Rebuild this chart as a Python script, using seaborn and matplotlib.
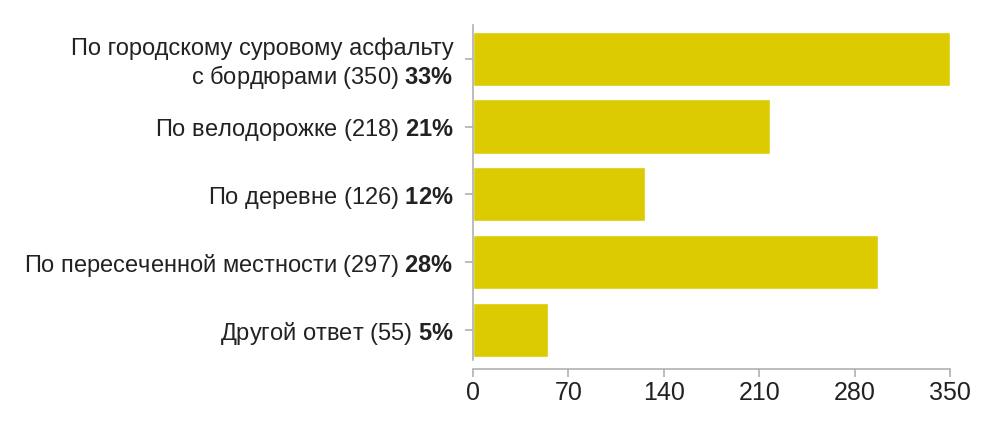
import matplotlib
matplotlib.use("Agg")
import matplotlib.pyplot as plt
import seaborn as sns
import pandas as pd

categories = [
    "По городскому суровому асфальту\nс бордюрами",
    "По велодорожке",
    "По деревне",
    "По пересеченной местности",
    "Другой ответ",
]
counts = [350, 218, 126, 297, 55]
percents = [33, 21, 12, 28, 5]
x_ticks = [0, 70, 140, 210, 280, 350]

df = pd.DataFrame({"cat": categories, "count": counts, "pct": percents})

sns.set_style("white")
plt.rcParams["font.family"] = ["Liberation Sans", "DejaVu Sans"]
plt.rcParams["mathtext.fontset"] = "custom"
plt.rcParams["mathtext.bf"] = "Liberation Sans:bold"
plt.rcParams["mathtext.rm"] = "Liberation Sans"

fig = plt.figure(figsize=(10, 4.33), dpi=100)
ax = fig.add_axes([0.473, 1 - 369 / 433, 0.477, (369 - 25) / 433])

sns.barplot(data=df, x="count", y="cat", color="#dccb00", saturation=1,
            width=0.8, ax=ax, orient="h")

labels = [f"{c} ({n}) $\\mathbf{{{p}\\%}}$" for c, n, p in zip(categories, counts, percents)]
ax.set_yticks(range(len(categories)))
ax.set_yticklabels(labels, fontsize=17, color="#222222", linespacing=1.15)
ax.set_xticks(x_ticks)
ax.set_xticklabels([str(t) for t in x_ticks], fontsize=18, color="#222222")
ax.set_xlim(0, 350)
ax.set_ylim(4.58, -0.5)
ax.set_xlabel("")
ax.set_ylabel("")

for s in ["top", "right"]:
    ax.spines[s].set_visible(False)
for s in ["left", "bottom"]:
    ax.spines[s].set_color("#b0b0b0")
    ax.spines[s].set_linewidth(1.2)
ax.spines["left"].set_bounds(4.45, -0.5)
ax.tick_params(axis="both", bottom=True, left=True, length=6, width=1.2,
               color="#b0b0b0")
ax.tick_params(axis="x", pad=3)
ax.tick_params(axis="y", pad=8)

fig.savefig("out.png", dpi=100, facecolor="white")
